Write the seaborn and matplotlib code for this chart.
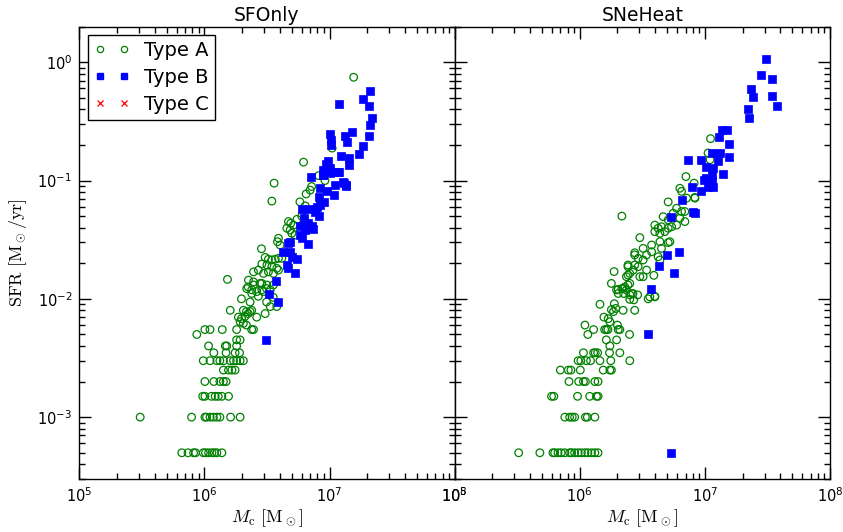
import numpy as np
import pandas as pd
import matplotlib
matplotlib.use("Agg")
import matplotlib.pyplot as plt
from matplotlib.lines import Line2D
import seaborn as sns

# ---------------- data (cluster mass [Msun], SFR [Msun/yr]) ----------------
panel_titles = ["SFOnly", "SNeHeat"]
type_labels = ["Type A", "Type B", "Type C"]

sfonly_typeA = [
    (6.6e5, 5e-4), (7.4e5, 5e-4), (8.2e5, 5e-4), (8.5e5, 5e-4), (9.8e5, 5e-4), (1.02e6, 5e-4),
    (1.08e6, 5e-4), (1.15e6, 5e-4), (1.2e6, 5e-4), (1.26e6, 5e-4), (1.38e6, 5e-4),
    (3.07e5, 1e-3), (7.9e5, 1e-3), (1.01e6, 1e-3), (1.04e6, 1e-3), (1.11e6, 1e-3), (1.18e6, 1e-3),
    (1.26e6, 1e-3), (1.33e6, 1e-3), (1.62e6, 1e-3), (1.93e6, 1e-3),
    (9.7e5, 1.5e-3), (1.01e6, 1.5e-3), (1.14e6, 1.5e-3), (1.22e6, 1.5e-3), (1.29e6, 1.5e-3),
    (1.38e6, 1.5e-3), (1.56e6, 1.5e-3),
    (1.01e6, 2e-3), (1.19e6, 2e-3), (1.33e6, 2e-3), (1.42e6, 2e-3), (1.49e6, 2e-3),
    (1.42e6, 2.5e-3), (1.56e6, 2.5e-3), (1.66e6, 2.5e-3), (1.76e6, 2.5e-3),
    (9.8e5, 3e-3), (1.11e6, 3e-3), (1.26e6, 3e-3), (1.33e6, 3e-3), (1.42e6, 3e-3), (1.61e6, 3e-3),
    (1.71e6, 3e-3), (1.81e6, 3e-3), (1.93e6, 3e-3), (2.05e6, 3e-3),
    (1.19e6, 3.5e-3), (1.49e6, 3.5e-3), (1.76e6, 3.5e-3), (1.91e6, 3.5e-3),
    (1.08e6, 4e-3), (1.47e6, 4e-3), (1.51e6, 4e-3), (1.81e6, 4e-3),
    (1.81e6, 4.5e-3), (1.93e6, 4.5e-3),
    (1.01e6, 5.5e-3), (1.11e6, 5.5e-3), (1.39e6, 5.5e-3), (1.81e6, 5.5e-3), (2.39e6, 5.5e-3),
    (2.47e6, 5.5e-3), (8.7e5, 5.0e-3),
    (1.61e6, 8.0e-3), (1.98e6, 1.0e-2), (2.32e6, 9.4e-3),
    (2.05e6, 8.0e-3), (2.17e6, 7.8e-3), (2.32e6, 7.8e-3), (2.39e6, 8.0e-3),
    (1.87e6, 7.0e-3), (1.98e6, 6.8e-3), (2.11e6, 7.1e-3), (2.24e6, 7.5e-3),
    (1.93e6, 6.4e-3), (2.05e6, 6.2e-3), (2.17e6, 6.0e-3),
    (2.62e6, 7.0e-3), (3.06e6, 7.5e-3), (3.36e6, 8.6e-3), (3.79e6, 8.6e-3),
    (3.14e6, 9.4e-3), (3.55e6, 1.03e-2),
    (2.39e6, 1.11e-2), (2.70e6, 1.05e-2), (2.88e6, 1.19e-2), (3.14e6, 1.22e-2),
    (2.24e6, 1.26e-2), (2.47e6, 1.31e-2), (2.88e6, 1.35e-2),
    (1.53e6, 1.46e-2), (2.86e6, 2.65e-2),
    (3.61e6, 9.5e-2), (3.46e6, 6.7e-2),
    (6.5e6, 7.7e-2), (7.0e6, 8.3e-2), (7.2e6, 8.9e-2), (5.8e6, 6.6e-2), (6.4e6, 6.1e-2),
    (4.7e6, 4.5e-2), (4.9e6, 4.35e-2), (5.15e6, 4.2e-2), (4.56e6, 3.95e-2), (4.85e6, 3.82e-2),
    (5.0e6, 3.58e-2), (5.3e6, 3.47e-2),
    (3.91e6, 3.25e-2), (3.84e6, 3.04e-2), (4.03e6, 2.85e-2),
    (3.06e6, 2.24e-2), (3.25e6, 2.16e-2), (3.46e6, 2.13e-2), (3.68e6, 2.16e-2), (3.91e6, 2.2e-2),
    (4.16e6, 2.2e-2),
    (2.88e6, 1.97e-2), (3.16e6, 1.93e-2), (3.46e6, 1.87e-2), (3.79e6, 1.81e-2),
    (2.47e6, 1.69e-2), (2.70e6, 1.75e-2), (2.97e6, 1.64e-2), (3.25e6, 1.69e-2), (3.56e6, 1.64e-2),
    (3.91e6, 1.75e-2),
    (2.25e6, 1.44e-2), (2.47e6, 1.39e-2), (2.79e6, 1.35e-2), (3.16e6, 1.31e-2), (3.56e6, 1.31e-2),
    (2.18e6, 1.22e-2), (2.39e6, 1.19e-2), (2.62e6, 1.15e-2), (2.97e6, 1.15e-2), (3.36e6, 1.19e-2),
    (1.56e7, 0.746), (1.05e7, 0.188), (6.2e6, 0.143), (8.2e6, 0.11), (9.2e6, 0.10),
    (6.0e6, 5.0e-2), (5.5e6, 4.7e-2), (6.3e6, 5.6e-2),
]

sfonly_typeB = [
    (3.12e6, 4.5e-3), (3.27e6, 1.10e-2), (3.91e6, 9.4e-3), (3.75e6, 1.42e-2),
    (7.1e6, 0.107), (8.9e6, 0.112), (1.01e7, 0.116), (1.18e7, 0.117),
    (1.11e7, 9.2e-2), (1.31e7, 9.6e-2), (1.36e7, 9.0e-2), (1.09e7, 7.6e-2), (9.5e6, 8.1e-2),
    (8.4e6, 8.6e-2), (8.2e6, 7.3e-2), (9.1e6, 6.6e-2), (8.4e6, 6.2e-2), (7.9e6, 6.0e-2),
    (7.0e6, 5.7e-2), (7.7e6, 5.4e-2), (8.3e6, 5.0e-2), (6.0e6, 5.8e-2),
    (6.3e6, 4.8e-2), (5.8e6, 4.1e-2), (6.7e6, 4.35e-2), (7.2e6, 4.1e-2), (6.4e6, 3.8e-2),
    (7.4e6, 3.87e-2),
    (5.8e6, 3.47e-2), (6.0e6, 3.25e-2), (6.7e6, 2.91e-2), (4.85e6, 3.05e-2), (4.7e6, 2.94e-2),
    (4.24e6, 2.5e-2), (4.85e6, 2.5e-2), (5.0e6, 2.27e-2), (5.5e6, 2.16e-2), (4.56e6, 1.93e-2),
    (4.7e6, 1.81e-2), (5.3e6, 1.66e-2),
    (2.09e7, 0.568), (1.85e7, 0.49), (2.05e7, 0.424), (1.2e7, 0.447),
    (2.18e7, 0.338), (2.09e7, 0.292), (2.05e7, 0.239), (1.85e7, 0.197), (1.73e7, 0.168),
    (1.01e7, 0.249), (1.03e7, 0.221), (1.03e7, 0.20),
    (1.32e7, 0.239), (1.51e7, 0.255), (1.39e7, 0.21),
    (1.23e7, 0.16), (1.42e7, 0.154), (1.42e7, 0.136),
    (9.8e6, 0.145), (9.4e6, 0.139), (1.01e7, 0.127), (8.95e6, 0.123), (1.2e7, 0.119),
    (8.85e6, 0.112), (1.29e7, 0.098), (1.36e7, 0.092),
]

sfonly_typeC = []

sneheat_typeA = [
    (3.25e5, 5e-4), (4.8e5, 5e-4), (6.1e5, 5e-4), (6.3e5, 5e-4), (6.7e5, 5e-4), (7.1e5, 5e-4),
    (7.6e5, 5e-4), (8.3e5, 5e-4), (8.6e5, 5e-4), (9.1e5, 5e-4), (9.7e5, 5e-4), (1.03e6, 5e-4),
    (1.1e6, 5e-4), (1.16e6, 5e-4), (1.24e6, 5e-4), (1.32e6, 5e-4), (1.4e6, 5e-4),
    (7.6e5, 1e-3), (8.3e5, 1e-3), (8.7e5, 1e-3), (9.1e5, 1e-3), (1.11e6, 1e-3), (1.15e6, 1e-3),
    (1.32e6, 1e-3),
    (5.95e5, 1.5e-3), (6.2e5, 1.5e-3), (9.6e5, 1.5e-3), (1.2e6, 1.5e-3), (1.36e6, 1.5e-3),
    (1.4e6, 1.5e-3),
    (8.2e5, 2e-3), (9.8e5, 2e-3), (1.07e6, 2e-3), (1.11e6, 2e-3), (1.32e6, 2e-3), (1.4e6, 2e-3),
    (7.0e5, 2.5e-3), (8.1e5, 2.5e-3), (8.5e5, 2.5e-3), (1.01e6, 2.5e-3), (1.54e6, 2.5e-3),
    (1.74e6, 2.5e-3), (1.79e6, 2.5e-3),
    (9.7e5, 3e-3), (1.02e6, 3e-3), (1.13e6, 3e-3), (1.22e6, 3e-3), (1.45e6, 3e-3), (1.77e6, 3e-3),
    (2.51e6, 3e-3),
    (1.07e6, 3.5e-3), (1.29e6, 3.5e-3), (1.33e6, 3.5e-3), (1.39e6, 3.5e-3), (1.73e6, 3.5e-3),
    (2.09e6, 3.5e-3),
    (1.74e6, 4e-3), (1.63e6, 4.5e-3), (1.97e6, 4.5e-3),
    (1.16e6, 5e-3), (2.5e6, 5e-3),
    (1.29e6, 5.5e-3), (1.58e6, 5.5e-3), (1.63e6, 5.5e-3), (1.68e6, 5.5e-3), (2.09e6, 5.5e-3),
    (2.03e6, 5.5e-3), (1.1e6, 6.0e-3), (2.0e6, 6.0e-3),
    (1.45e6, 9.0e-3), (1.56e6, 7.0e-3), (1.74e6, 6.4e-3), (1.69e6, 6.8e-3),
    (1.79e6, 8.1e-3), (1.86e6, 7.8e-3), (1.94e6, 8.3e-3), (1.89e6, 9.1e-3),
    (1.79e6, 1.35e-2),
    (1.88e6, 1.7e-2), (1.97e6, 1.19e-2), (2.03e6, 1.11e-2), (2.22e6, 8.0e-3), (2.22e6, 1.22e-2),
    (2.36e6, 1.19e-2), (2.43e6, 1.59e-2), (2.51e6, 1.35e-2),
    (2.43e6, 1.93e-2), (2.75e6, 1.93e-2), (2.58e6, 1.11e-2), (2.7e6, 9.8e-3), (2.51e6, 9.9e-3),
    (2.75e6, 8.0e-3), (3.52e6, 1.0e-2), (3.98e6, 1.04e-2),
    (2.17e6, 5.0e-2), (3.02e6, 3.29e-2),
    (2.03e6, 1.2e-2), (2.17e6, 1.22e-2), (2.29e6, 1.26e-2), (2.43e6, 1.31e-2), (2.24e6, 1.11e-2),
    (2.51e6, 1.08e-2), (2.66e6, 1.11e-2), (2.9e6, 1.08e-2),
    (2.36e6, 1.54e-2), (2.51e6, 1.64e-2), (2.43e6, 1.87e-2), (2.67e6, 1.75e-2), (2.93e6, 1.87e-2),
    (3.02e6, 1.54e-2), (3.21e6, 1.54e-2), (3.42e6, 1.75e-2), (3.91e6, 1.58e-2), (3.21e6, 2.13e-2),
    (2.75e6, 2.35e-2), (2.93e6, 2.2e-2), (3.42e6, 2.35e-2), (3.75e6, 2.5e-2),
    (2.75e6, 2.45e-2), (3.21e6, 2.67e-2), (3.75e6, 2.85e-2), (4.5e6, 2.67e-2), (4.37e6, 3.04e-2),
    (5.09e6, 2.99e-2), (5.25e6, 3.04e-2),
    (3.98e6, 4.2e-2), (4.23e6, 3.95e-2), (4.5e6, 4.07e-2), (3.98e6, 3.7e-2), (4.37e6, 3.58e-2),
    (4.79e6, 3.7e-2), (5.09e6, 3.95e-2), (5.42e6, 4.07e-2), (5.94e6, 4.2e-2),
    (4.64e6, 4.95e-2), (5.09e6, 4.65e-2), (5.58e6, 5.3e-2), (5.94e6, 5.83e-2), (6.51e6, 5.47e-2),
    (6.31e6, 4.8e-2), (6.92e6, 4.5e-2), (6.92e6, 5.47e-2),
    (5.09e6, 6.6e-2), (6.31e6, 8.6e-2), (6.51e6, 8.1e-2), (7.14e6, 7.1e-2), (8.32e6, 7.1e-2),
    (7.05e6, 0.108),
    (3.63e6, 1.04e-2), (3.98e6, 1.05e-2), (4.37e6, 2.13e-2), (4.23e6, 2.27e-2),
    (1.11e7, 0.226), (1.06e7, 0.171), (1.1e7, 0.15), (8.2e6, 9.5e-2), (8.3e6, 7.2e-2),
]

sneheat_typeB = [
    (5.4e6, 5e-4), (3.48e6, 5.0e-3), (3.7e6, 1.2e-2), (4.28e6, 1.89e-2), (4.94e6, 2.34e-2),
    (5.69e6, 1.66e-2), (6.2e6, 2.5e-2),
    (7.83e6, 8.9e-2), (9.24e6, 8.1e-2), (6.51e6, 6.8e-2), (5.32e6, 4.9e-2), (8.32e6, 5.3e-2),
    (8.05e6, 5.47e-2),
    (3.08e7, 1.07), (2.8e7, 0.787), (3.45e7, 0.723), (2.32e7, 0.595), (2.41e7, 0.505),
    (3.45e7, 0.515), (3.75e7, 0.424), (2.2e7, 0.406), (2.26e7, 0.338),
    (1.36e7, 0.269), (1.51e7, 0.269), (1.29e7, 0.233), (1.56e7, 0.205),
    (7.35e6, 0.15), (9.3e6, 0.15), (1.13e7, 0.171), (1.32e7, 0.171), (1.28e7, 0.145),
    (1.56e7, 0.158),
    (1.03e7, 0.131), (1.17e7, 0.127), (1.13e7, 0.112), (1.03e7, 0.105), (1.4e7, 0.114),
    (1.17e7, 8.9e-2), (9.9e6, 0.101), (1.13e7, 0.101), (1.06e7, 8.9e-2),
]

sneheat_typeC = []

x_limits = (1e5, 1e8)
y_limits = (3e-4, 2.0)

# ---------------- styling ----------------
sns.set_style("ticks")
plt.rcParams["font.family"] = ["DejaVu Sans"]
plt.rcParams["mathtext.fontset"] = "dejavusans"
plt.rcParams["text.color"] = "black"
plt.rcParams["axes.labelcolor"] = "black"
plt.rcParams["xtick.color"] = "black"
plt.rcParams["ytick.color"] = "black"


def to_frame(pairs):
    arr = np.array(pairs, dtype=float).reshape(-1, 2)
    return pd.DataFrame({"M": arr[:, 0], "SFR": arr[:, 1]})


fig, axes = plt.subplots(1, 2, figsize=(8.43, 5.32), dpi=100, sharey=True)
fig.subplots_adjust(left=0.094, right=0.9846, top=0.95, bottom=0.0996, wspace=0)

panels = [
    (sfonly_typeA, sfonly_typeB, sfonly_typeC),
    (sneheat_typeA, sneheat_typeB, sneheat_typeC),
]

for ax, title, (dA, dB, dC) in zip(axes, panel_titles, panels):
    ax.set_xscale("log")
    ax.set_yscale("log")
    dfA = to_frame(dA)
    dfB = to_frame(dB)
    # Type A: open green circles
    sns.scatterplot(data=dfA, x="M", y="SFR", ax=ax, marker="o", s=30,
                    color="green", linewidth=0.9, legend=False, zorder=2)
    collA = ax.collections[-1]
    collA.set_facecolor("none")
    collA.set_edgecolor("green")
    # Type B: filled blue squares
    sns.scatterplot(data=dfB, x="M", y="SFR", ax=ax, marker="s", s=32,
                    color="blue", edgecolor="blue", linewidth=0.5, legend=False, zorder=3)
    # Type C: red crosses (no entries)
    if len(dC):
        dfC = to_frame(dC)
        sns.scatterplot(data=dfC, x="M", y="SFR", ax=ax, marker="x", s=25,
                        color="red", legend=False, zorder=4)

    ax.set_xlim(*x_limits)
    ax.set_ylim(*y_limits)
    ax.set_title(title, fontsize=13.5, pad=4, color="black")
    ax.set_xlabel(r"$M_\mathrm{c}\ [\mathrm{M}_\odot]$", fontsize=13,
                  math_fontfamily="cm", labelpad=2, color="black")
    ax.tick_params(which="both", direction="in", top=True, right=True,
                   labelsize=10.5, width=1, colors="black")
    ax.tick_params(which="major", length=8.5, pad=5)
    ax.tick_params(which="minor", length=4.3)
    for sp in ax.spines.values():
        sp.set_linewidth(1.0)
        sp.set_color("black")

axes[0].set_ylabel(r"$\mathrm{SFR}\ [\mathrm{M}_\odot/\mathrm{yr}]$", fontsize=13,
                   math_fontfamily="cm", labelpad=6, color="black")
axes[1].set_ylabel("")
axes[1].tick_params(labelleft=False)

handles = [
    Line2D([], [], ls="none", marker="o", mfc="none", mec="green", mew=0.9, ms=4.5),
    Line2D([], [], ls="none", marker="s", mfc="blue", mec="blue", ms=4.8),
    Line2D([], [], ls="none", marker="x", color="red", mew=0.9, ms=4.5),
]
leg = axes[0].legend(handles, type_labels, loc="upper left", numpoints=2,
                     fontsize=14, handlelength=1.85, handletextpad=0.75,
                     labelspacing=0.4, borderpad=0.3, borderaxespad=0.45,
                     fancybox=False, framealpha=1, edgecolor="black")
leg.get_frame().set_linewidth(1.0)
for t in leg.get_texts():
    t.set_color("black")

fig.savefig("out.png", dpi=100)
